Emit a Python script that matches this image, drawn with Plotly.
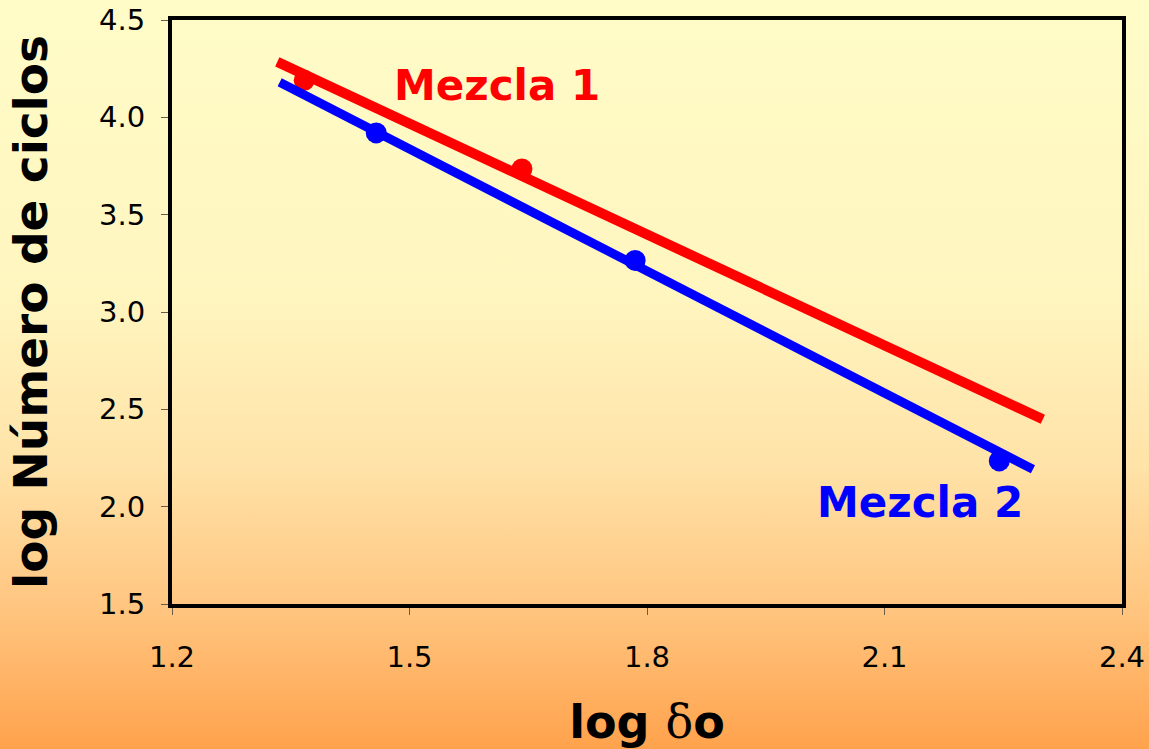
import base64
import plotly.graph_objects as go

# ---- data ----
mezcla1_x = [1.367, 1.642]
mezcla1_y = [4.19, 3.735]
mezcla2_x = [1.458, 1.785, 2.245]
mezcla2_y = [3.92, 3.265, 2.235]

trend1_x = [1.333, 2.300]
trend1_y = [4.285, 2.449]
trend2_x = [1.336, 2.2875]
trend2_y = [4.180, 2.192]

x_ticks = [1.2, 1.5, 1.8, 2.1, 2.4]
y_ticks = [1.5, 2.0, 2.5, 3.0, 3.5, 4.0, 4.5]

RED = "#FF0000"
BLUE = "#0000FF"

W, H = 1149, 749
ML, MR, MT, MB = 172, 27, 20, 145
PW, PH = W - ML - MR, H - MT - MB

svg = f"""<svg xmlns='http://www.w3.org/2000/svg' width='{W}' height='{H}' preserveAspectRatio='none'>
<defs><linearGradient id='g' x1='0' y1='0' x2='0' y2='1'>
<stop offset='0' stop-color='#FFFCC8'/>
<stop offset='0.40' stop-color='#FFF5BF'/>
<stop offset='0.62' stop-color='#FFE3A8'/>
<stop offset='0.82' stop-color='#FFC47E'/>
<stop offset='1' stop-color='#FFA24C'/>
</linearGradient></defs>
<rect x='0' y='0' width='{W}' height='{H}' fill='url(#g)'/></svg>"""
bg_src = "data:image/svg+xml;base64," + base64.b64encode(svg.encode()).decode()

fig = go.Figure()

fig.add_trace(go.Scatter(x=mezcla1_x, y=mezcla1_y, mode="markers",
                         marker=dict(color=RED, size=21), showlegend=False))
fig.add_trace(go.Scatter(x=mezcla2_x, y=mezcla2_y, mode="markers",
                         marker=dict(color=BLUE, size=21), showlegend=False))
fig.add_trace(go.Scatter(x=trend1_x, y=trend1_y, mode="lines",
                         line=dict(color=RED, width=10), showlegend=False))
fig.add_trace(go.Scatter(x=trend2_x, y=trend2_y, mode="lines",
                         line=dict(color=BLUE, width=9), showlegend=False))

fig.add_annotation(x=1.478, y=4.162, text="<b>Mezcla 1</b>", showarrow=False,
                   xanchor="left", yanchor="middle",
                   font=dict(family="DejaVu Sans", size=42, color=RED))
fig.add_annotation(x=2.012, y=2.023, text="<b>Mezcla 2</b>", showarrow=False,
                   xanchor="left", yanchor="middle",
                   font=dict(family="DejaVu Sans", size=42, color=BLUE))

fig.add_layout_image(dict(source=bg_src, xref="paper", yref="paper",
                          x=-ML / PW, y=1 + MT / PH, sizex=W / PW, sizey=H / PH,
                          xanchor="left", yanchor="top", sizing="stretch",
                          layer="below"))

axis_common = dict(showgrid=False, zeroline=False, showline=True, linecolor="black",
                   linewidth=4, mirror=True, ticks="outside", ticklen=7,
                   tickwidth=1, tickcolor="#6b5a45", automargin=False,
                   tickfont=dict(family="DejaVu Sans", size=29, color="black"))

fig.update_layout(
    width=W, height=H,
    margin=dict(l=ML, r=MR, t=MT, b=MB),
    paper_bgcolor="rgba(0,0,0,0)", plot_bgcolor="rgba(0,0,0,0)",
    xaxis=dict(range=[1.2, 2.4], tickvals=x_ticks, ticktext=[f"{v:.1f}" for v in x_ticks],
               ticklabelstandoff=17,
               title=dict(text="<b>log </b><span style='font-family:DejaVu Serif'>δ</span><b>o</b>",
                          font=dict(family="DejaVu Sans", size=46, color="black"),
                          standoff=37),
               **axis_common),
    yaxis=dict(range=[1.5, 4.5], tickvals=y_ticks, ticktext=[f"{v:.1f}" for v in y_ticks],
               ticklabelstandoff=10,
               title=dict(text="<b>log Número de ciclos</b>",
                          font=dict(family="DejaVu Sans", size=47, color="black"),
                          standoff=38),
               **axis_common),
)

fig.write_html("out.html", config={"displayModeBar": False},
               post_script="document.body.style.margin='0';document.body.style.overflow='hidden';")
